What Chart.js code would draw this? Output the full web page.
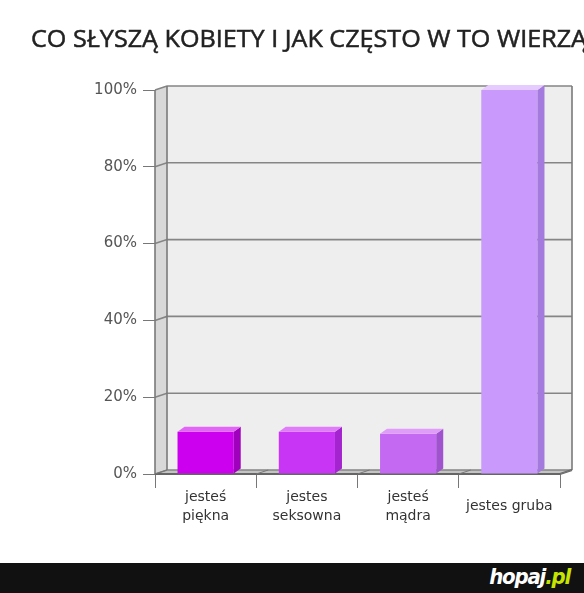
<!DOCTYPE html>
<html lang="pl">
<head>
<meta charset="utf-8">
<title>Co słyszą kobiety</title>
<script src="https://cdn.jsdelivr.net/npm/chart.js@4.4.1/dist/chart.umd.min.js"></script>
<style>
    html, body { margin: 0; padding: 0; background: #fff; }
    #wrap { position: relative; width: 584px; height: 563px; }
    #footer { position: relative; width: 584px; height: 30px; background: #111; }
    #logo {
        position: absolute; right: 14px; top: 1px;
        font: italic bold 22px 'DejaVu Sans Condensed', sans-serif;
        color: #fff; letter-spacing: -1.2px;
    }
    #logo span { color: #c5e400; }
</style>
</head>
<body>
<div id="wrap"><canvas id="myChart"></canvas></div>
<div id="footer"><div id="logo">hopaj<span>.pl</span></div></div>
<script>
// dane wykresu
const chartTitle = 'CO SŁYSZĄ KOBIETY I JAK CZĘSTO W TO WIERZĄ';
const categories = [['jesteś', 'piękna'], ['jestes', 'seksowna'], ['jesteś', 'mądra'], 'jestes gruba'];
const values = [11, 11, 10.5, 100];
const yTickValues = [0, 20, 40, 60, 80, 100];

// kolory słupków: przód / bok / góra
const frontColors = ['#cc00ee', '#c935f5', '#c46af2', '#c99afb'];
const sideColors = ['#a000bd', '#a424d0', '#a052cf', '#a57ade'];
const topColors = ['#e265f7', '#e07bfa', '#df9cf8', '#e6cbff'];

// głębokość efektu 3D
const WALL_DX = 12, WALL_DY = -4;
const BAR_DX = 7, BAR_DY = -5;

function poly(ctx, pts, fill, stroke) {
    ctx.beginPath();
    ctx.moveTo(pts[0][0], pts[0][1]);
    for (let i = 1; i < pts.length; i++) ctx.lineTo(pts[i][0], pts[i][1]);
    ctx.closePath();
    if (fill) { ctx.fillStyle = fill; ctx.fill(); }
    if (stroke) { ctx.strokeStyle = stroke; ctx.stroke(); }
}

// tytuł rysowany ręcznie (wystaje poza prawą krawędź jak w oryginale)
const titlePlugin = {
    id: 'titleText',
    afterDraw(chart) {
        const ctx = chart.ctx;
        ctx.save();
        ctx.font = '24px "Open Sans", sans-serif';
        const w = ctx.measureText(chartTitle).width;
        ctx.translate(31, 47);
        ctx.scale(556 / w, 1);
        ctx.fillStyle = '#222';
        ctx.strokeStyle = '#222';
        ctx.lineWidth = 0.5;
        ctx.textBaseline = 'alphabetic';
        ctx.fillText(chartTitle, 0, 0);
        ctx.strokeText(chartTitle, 0, 0);
        ctx.restore();
    }
};

// ściany, podłoga i linie siatki w stylu 3D
const framePlugin = {
    id: 'frame3d',
    beforeDatasetsDraw(chart) {
        const { ctx, chartArea: a, scales } = chart;
        const L = a.left, R = a.right, T = a.top, B = a.bottom;
        ctx.save();
        ctx.lineWidth = 1;

        // tylna ściana
        poly(ctx, [[L + WALL_DX, T + WALL_DY], [R + WALL_DX, T + WALL_DY],
                   [R + WALL_DX, B + WALL_DY], [L + WALL_DX, B + WALL_DY]], '#eeeeee', null);
        // lewa ściana
        poly(ctx, [[L, T], [L + WALL_DX, T + WALL_DY], [L + WALL_DX, B + WALL_DY], [L, B]], '#d8d8d8', null);
        // podłoga
        poly(ctx, [[L, B], [L + WALL_DX, B + WALL_DY], [R + WALL_DX, B + WALL_DY], [R, B]], '#c4c4c4', null);

        ctx.strokeStyle = '#858585';
        ctx.lineWidth = 1.6;
        yTickValues.forEach(v => {
            const y = scales.y.getPixelForValue(v);
            ctx.beginPath();
            ctx.moveTo(L, y);
            ctx.lineTo(L + WALL_DX, y + WALL_DY);
            ctx.lineTo(R + WALL_DX, y + WALL_DY);
            ctx.stroke();
        });

        // krawędzie
        ctx.strokeStyle = '#7a7a7a';
        ctx.beginPath();
        ctx.moveTo(L, B); ctx.lineTo(L, T);
        ctx.moveTo(L + WALL_DX, B + WALL_DY); ctx.lineTo(L + WALL_DX, T + WALL_DY);
        ctx.moveTo(R + WALL_DX, B + WALL_DY); ctx.lineTo(R + WALL_DX, T + WALL_DY);
        ctx.stroke();
        ctx.strokeStyle = '#666';
        ctx.lineWidth = 2;
        ctx.beginPath();
        ctx.moveTo(L, B); ctx.lineTo(R, B); ctx.lineTo(R + WALL_DX, B + WALL_DY);
        ctx.stroke();

        // ukośne kreski na podłodze przy podziałkach osi X
        ctx.lineWidth = 1;
        ctx.strokeStyle = '#777';
        const n = categories.length;
        for (let i = 0; i <= n; i++) {
            const x = L + (R - L) * i / n;
            ctx.beginPath();
            ctx.moveTo(x, B);
            ctx.lineTo(x + WALL_DX, B + WALL_DY);
            ctx.stroke();
        }
        ctx.restore();
    },
    afterDatasetsDraw(chart) {
        const ctx = chart.ctx;
        const meta = chart.getDatasetMeta(0);
        ctx.save();
        meta.data.forEach((bar, i) => {
            const { x, y, base, width } = bar.getProps(['x', 'y', 'base', 'width'], true);
            const l = x - width / 2, r = x + width / 2;
            // bok
            poly(ctx, [[r, y], [r + BAR_DX, y + BAR_DY], [r + BAR_DX, base + BAR_DY], [r, base]], sideColors[i], null);
            // góra
            poly(ctx, [[l, y], [r, y], [r + BAR_DX, y + BAR_DY], [l + BAR_DX, y + BAR_DY]], topColors[i], null);
        });
        ctx.restore();
    }
};

const ctx = document.getElementById('myChart');

new Chart(ctx, {
    type: 'bar',
    data: {
        labels: categories,
        datasets: [{
            data: values,
            backgroundColor: frontColors,
            borderWidth: 0,
            barPercentage: 0.555,
            categoryPercentage: 1
        }]
    },
    options: {
        responsive: true,
        maintainAspectRatio: false,
        animation: false,
        events: [],
        layout: {
            padding: { left: 0, top: 90, right: 24, bottom: 29 }
        },
        plugins: {
            legend: { display: false },
            title: { display: false },
            tooltip: { enabled: false }
        },
        scales: {
            x: {
                afterFit: scale => { scale.height = 60; },
                grid: {
                    display: true,
                    drawOnChartArea: false,
                    drawTicks: true,
                    tickLength: 14,
                    color: '#777'
                },
                border: { display: false },
                ticks: {
                    color: '#333',
                    padding: 9,
                    crossAlign: 'center',
                    maxRotation: 0,
                    autoSkip: false,
                    font: { family: '"DejaVu Sans", sans-serif', size: 14, lineHeight: 1.4 }
                }
            },
            y: {
                min: 0,
                max: 100,
                afterFit: scale => { scale.width = 155; },
                afterBuildTicks: scale => {
                    scale.ticks = yTickValues.map(v => ({ value: v }));
                },
                grid: {
                    display: true,
                    drawOnChartArea: false,
                    drawTicks: true,
                    tickLength: 12,
                    color: '#777'
                },
                border: { display: false },
                ticks: {
                    color: '#555',
                    padding: 6,
                    font: { family: '"DejaVu Sans", sans-serif', size: 15 },
                    callback: v => v + '%'
                }
            }
        }
    },
    plugins: [framePlugin, titlePlugin]
});
</script>
</body>
</html>
